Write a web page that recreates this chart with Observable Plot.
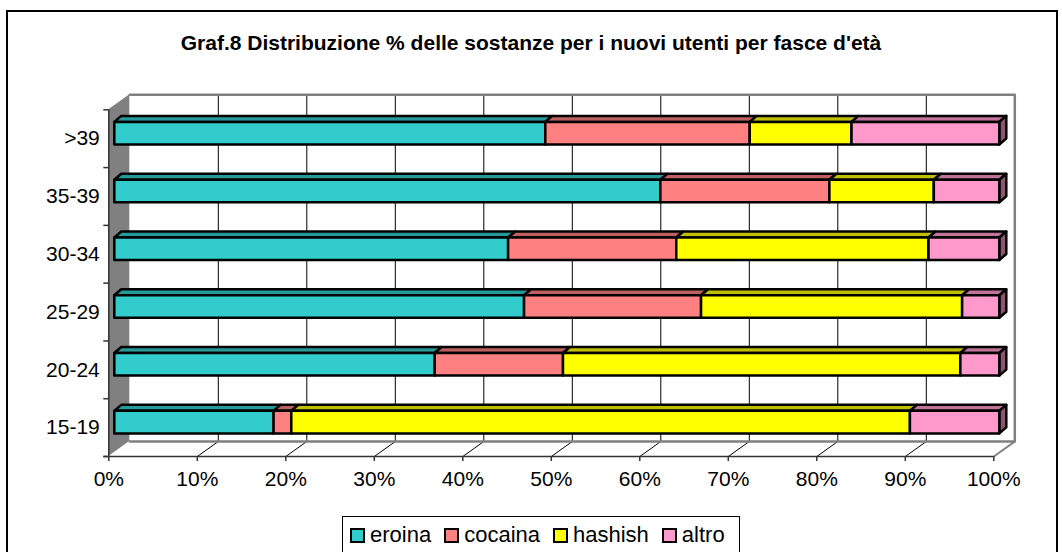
<!DOCTYPE html>
<html>
<head>
<meta charset="utf-8">
<script src="https://cdn.jsdelivr.net/npm/d3@7"></script>
<script src="https://cdn.jsdelivr.net/npm/@observablehq/plot@0.6"></script>
<style>
  html, body { margin: 0; padding: 0; background: #fff; }
  #wrap { position: relative; width: 1062px; height: 552px; overflow: hidden; font-family: "Liberation Sans", Arial, sans-serif; }
  #frame { position: absolute; left: 6px; top: 10px; width: 1052px; height: 620px; border: 2px solid #000; box-sizing: border-box; }
  #title { position: absolute; left: 0; top: 31px; width: 1062px; text-align: center; font-weight: bold; font-size: 21px; line-height: 24px; color: #000; }
  #chart { position: absolute; left: 0; top: 0; }
  #legend { position: absolute; left: 342px; top: 516px; width: 398px; height: 60px; border: 1px solid #000; box-sizing: border-box; padding: 7px 0 0 7px; display: flex; align-items: flex-start; flex-wrap: nowrap; }
  .item { display: flex; align-items: center; font-size: 22px; line-height: 22px; margin-right: 13px; height: 22px; white-space: nowrap; }
  .sw { width: 15px; height: 15px; border: 2px solid #000; box-sizing: border-box; margin-right: 5px; flex: none; }
</style>
</head>
<body>
<div id="wrap">
  <div id="frame"></div>
  <div id="chart"></div>
  <div id="title">Graf.8 Distribuzione % delle sostanze per i nuovi utenti per fasce d'età</div>
  <div id="legend"></div>
</div>
<script>
// ---- data (bottom to top) ----
const categories = ["15-19", "20-24", "25-29", "30-34", "35-39", ">39"];
const eroina  = [18.0, 36.2, 46.3, 44.5, 61.7, 48.7];
const cocaina = [2.0, 14.5, 20.0, 19.0, 19.1, 23.1];
const hashish = [69.9, 44.9, 29.5, 28.5, 11.8, 11.5];
const altro   = [10.1, 4.4, 4.2, 8.0, 7.4, 16.7];
const seriesNames = ["eroina", "cocaina", "hashish", "altro"];
const seriesColors = ["#33CCCC", "#FF8080", "#FFFF00", "#FF99CC"];
const topColors = ["#269999", "#BF6060", "#BFBF00", "#BF7399"];
const sideColors = ["#1A6666", "#804040", "#808000", "#8C5470"];
const xTicks = [0, 10, 20, 30, 40, 50, 60, 70, 80, 90, 100];

const seriesValues = [eroina, cocaina, hashish, altro];

// ---- geometry ----
const W = 1062, H = 500;
const mL = 108.3, mR = 68.7, mT = 109.3, mB = 44;
const pxX = 100 / (W - mL - mR);
const pxY = categories.length / (H - mT - mB);
const wall = {dx: 21 * pxX, dy: 15 * pxY};
const fr = {dx: 6 * pxX, dy: 5 * pxY};
const bk = {dx: 13 * pxX, dy: 11 * pxY};
const half = 0.195;

// build stacked segments
const segs = [];
categories.forEach((c, i) => {
  const total = d3.sum(seriesValues, v => v[i]);
  let acc = 0;
  seriesValues.forEach((v, j) => {
    const s = acc / total * 100;
    acc += v[i];
    const e = acc / total * 100;
    segs.push({row: i, j, s, e, yc: i + 0.5, id: i + "-" + j});
  });
});

const topPts = segs.flatMap(d => [
  {id: d.id, fill: topColors[d.j], y: d.yc + half + fr.dy, x1: d.s + fr.dx, x2: d.e + fr.dx},
  {id: d.id, fill: topColors[d.j], y: d.yc + half + bk.dy, x1: d.s + bk.dx, x2: d.e + bk.dx}
]);
const lastSegs = segs.filter(d => d.j === seriesNames.length - 1);
const sidePts = lastSegs.flatMap(d => [
  {id: d.id, fill: sideColors[d.j], x: d.e + fr.dx, y1: d.yc - half + fr.dy, y2: d.yc + half + fr.dy},
  {id: d.id, fill: sideColors[d.j], x: d.e + bk.dx, y1: d.yc - half + bk.dy, y2: d.yc + half + bk.dy}
]);

const nRows = categories.length;
const inner = xTicks.slice(1, -1);

const chart = Plot.plot({
  width: W, height: H,
  marginLeft: mL, marginRight: mR, marginTop: mT, marginBottom: mB,
  x: {domain: [0, 100], axis: null},
  y: {domain: [0, nRows], axis: null},
  color: {type: "identity"},
  style: {fontFamily: "'Liberation Sans', Arial, sans-serif", background: "transparent", overflow: "visible", color: "#000"},
  marks: [
    // side wall
    Plot.areaY([{x: 0, y1: 0, y2: nRows}, {x: wall.dx, y1: wall.dy, y2: nRows + wall.dy}],
      {x: "x", y1: "y1", y2: "y2", fill: "#808080"}),
    // back wall gridlines
    Plot.ruleX(inner, {x: d => d + wall.dx, y1: wall.dy, y2: nRows + wall.dy, stroke: "#000", strokeWidth: 1}),
    // floor gridlines
    Plot.link(inner, {x1: d => d, y1: 0, x2: d => d + wall.dx, y2: wall.dy, stroke: "#000", strokeWidth: 1}),
    // back wall border + floor back edge
    Plot.line([
      {x: wall.dx, y: wall.dy}, {x: 100 + wall.dx, y: wall.dy},
      {x: 100 + wall.dx, y: nRows + wall.dy}, {x: wall.dx, y: nRows + wall.dy}
    ], {x: "x", y: "y", stroke: "#808080", strokeWidth: 2.5}),
    Plot.link([100], {x1: d => d, y1: 0, x2: d => d + wall.dx, y2: wall.dy, stroke: "#808080", strokeWidth: 2}),
    // front axes
    Plot.ruleY([0], {x1: -5 * pxX, x2: 100, stroke: "#333", strokeWidth: 1.5}),
    Plot.ruleX([0], {y1: 0, y2: nRows, stroke: "#333", strokeWidth: 1.5}),
    Plot.ruleY(d3.range(nRows + 1), {x1: -5 * pxX, x2: 0, stroke: "#333", strokeWidth: 1.5}),
    Plot.ruleX(xTicks, {y1: 0, y2: -5 * pxY, stroke: "#333", strokeWidth: 1.5}),
    // bars: top faces, side face, front faces
    Plot.areaX(topPts, {y: "y", x1: "x1", x2: "x2", z: "id", fill: "fill", stroke: "#000", strokeWidth: 2.5, strokeLinejoin: "round"}),
    Plot.areaY(sidePts, {x: "x", y1: "y1", y2: "y2", z: "id", fill: "fill", stroke: "#000", strokeWidth: 2.5, strokeLinejoin: "round"}),
    Plot.rect(segs, {
      x1: d => d.s + fr.dx, x2: d => d.e + fr.dx,
      y1: d => d.yc - half + fr.dy, y2: d => d.yc + half + fr.dy,
      fill: d => seriesColors[d.j], stroke: "#000", strokeWidth: 2.5, strokeLinejoin: "round"
    }),
    // labels
    Plot.text(categories, {x: 0, y: (d, i) => i + 0.5, text: d => d, textAnchor: "end", dx: -9, fontSize: 21, fill: "#000"}),
    Plot.text(xTicks, {x: d => d, y: 0, text: d => d + "%", dy: 23, fontSize: 21, fill: "#000"})
  ]
});
document.getElementById("chart").appendChild(chart);

// legend
const lg = document.getElementById("legend");
seriesNames.forEach((n, j) => {
  const it = document.createElement("div");
  it.className = "item";
  const sw = document.createElement("span");
  sw.className = "sw";
  sw.style.background = seriesColors[j];
  const t = document.createElement("span");
  t.textContent = n;
  it.appendChild(sw); it.appendChild(t);
  lg.appendChild(it);
});
</script>
</body>
</html>
